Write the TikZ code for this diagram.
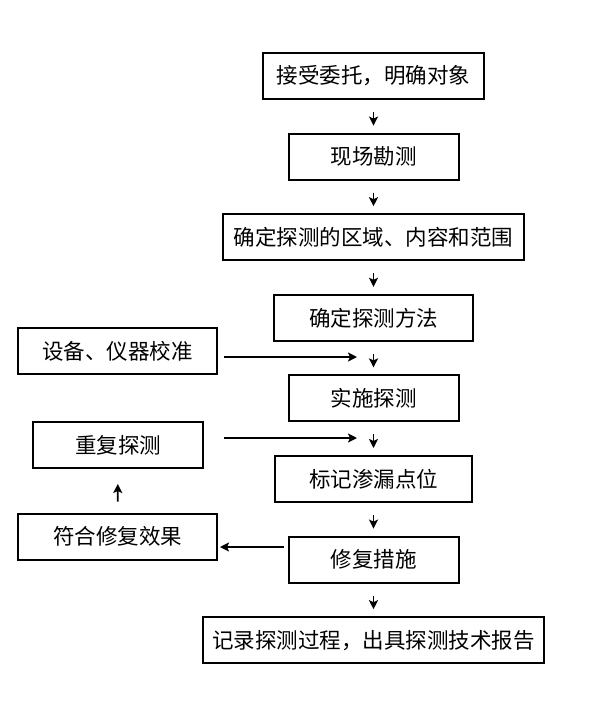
\documentclass[tikz,border=0pt]{standalone}
\usepackage{fontspec}
\setmainfont{Noto Sans CJK SC}
\usetikzlibrary{positioning,arrows.meta}

\begin{document}
\begin{tikzpicture}[x=1pt,y=-1pt,node distance=80.6pt,on grid,
   box/.style={draw,line width=2pt,minimum height=46pt,inner sep=0pt,
     font=\fontsize{21.5}{24}\selectfont},
   >={Stealth[length=9pt,width=9pt,inset=2pt]}]
   \useasboundingbox (0,0) rectangle (600,718);
   \node[box,minimum width=221pt] (s_1) at (373.5,76) {接受委托，明确对象};
   \node[box,minimum width=170pt] (s_2) [below=of s_1] {现场勘测};
   \node[box,minimum width=301pt] (s_3) [below=of s_2] {确定探测的区域、内容和范围};
   \node[box,minimum width=199pt] (s_4) [below=of s_3] {确定探测方法};
   \node[box,minimum width=170pt] (s_5) [below=of s_4] {实施探测};
   \node[box,minimum width=197pt] (s_6) [below=of s_5] {标记渗漏点位};
   \node[box,minimum width=170pt] (s_7) [below=of s_6] {修复措施};
   \node[box,minimum width=341pt] (s_8) [below=of s_7] {记录探测过程，出具探测技术报告};
   \node[box,minimum width=199pt] (e_1) at (117.5,351) {设备、仪器校准};
   \node[box,minimum width=170pt] (e_2) at (118,445) {重复探测};
   \node[box,minimum width=199pt] (e_3) at (117.5,536.5) {符合修复效果};
   \coordinate (m_1) at (357,357);
   \coordinate (m_2) at (357,438);
   \coordinate (m_3) at (220,547);

   \path[->,line width=1.8pt,shorten <=12pt,shorten >=7pt]
    (s_1) edge (s_2)
    (s_2) edge (s_3)
    (s_3) edge (s_4)
    (s_4) edge (s_5)
    (s_5) edge (s_6)
    (s_6) edge (s_7)
    (s_7) edge (s_8);
   \path[->,line width=1.8pt]
    (e_1.east |- m_1) edge[shorten <=6pt] (m_1)
    (e_2.east |- m_2) edge[shorten <=20pt] (m_2)
    (s_7.west |- m_3) edge[shorten <=4pt] (m_3)
    (e_3) edge[shorten <=11pt,shorten >=15pt] (e_2);
\end{tikzpicture}
\end{document}
